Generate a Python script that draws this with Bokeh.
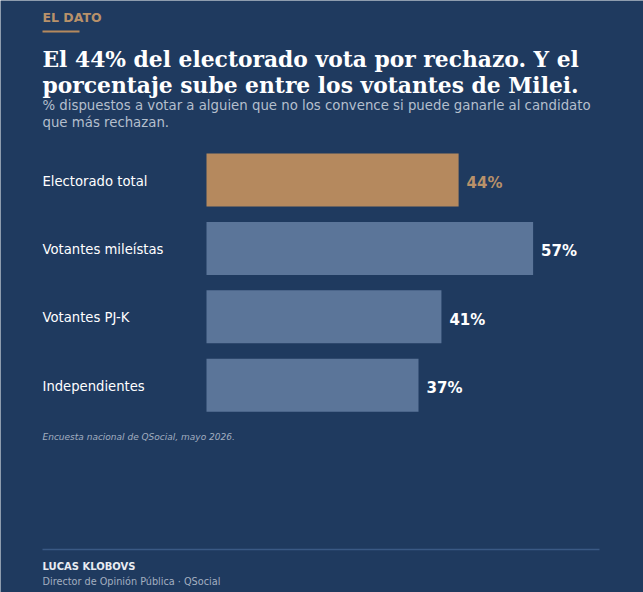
from bokeh.plotting import figure
from bokeh.models import Range1d, ColumnDataSource
from bokeh.core.properties import value
from bokeh.embed import file_html
from bokeh.resources import INLINE

# Survey results (% willing to vote for someone they don't like to beat the most rejected candidate)
categories = ["Electorado total", "Votantes mileístas", "Votantes PJ-K", "Independientes"]
shares = [44, 57, 41, 37]
value_labels = ["44%", "57%", "41%", "37%"]

BG = "#1f3a5f"
TAN = "#b5895e"
TAN_TEXT = "#b8916a"
BLUE = "#5b7599"
WHITE = "#ffffff"
SUB = "#b4bfcd"
MUTED = "#a3afc0"

W, H = 643, 592
X0 = 206          # pixel where 0% sits
PX_PER_PCT = 5.73

p = figure(width=W, height=H, output_backend="svg", toolbar_location=None,
           x_range=Range1d(-X0 / PX_PER_PCT, (W - X0) / PX_PER_PCT),
           y_range=Range1d(H, 0), min_border=0)
p.axis.visible = False
p.grid.visible = False
p.outline_line_color = None
p.background_fill_color = BG
p.border_fill_color = BG

def px(x):
    """convert a pixel column to the percent scale of the x axis"""
    return (x - X0) / PX_PER_PCT

# bars
y0, step, bar_h = 179.5, 68.4, 53
ys = [y0 + i * step for i in range(len(categories))]
colors = [TAN] + [BLUE] * (len(categories) - 1)
src = ColumnDataSource(dict(cat=categories, v=shares, y=ys, c=colors,
                            lab=value_labels,
                            lx=[s + 8 / PX_PER_PCT for s in shares],
                            tc=[TAN_TEXT] + [WHITE] * (len(categories) - 1)))
p.hbar(y="y", left=0, right="v", height=bar_h, fill_color="c", line_color=None, source=src)

# category labels
p.text(x=px(42), y="y", text="cat", source=src, text_font=value("DejaVu Sans"),
       text_font_size="13.2px", text_color=WHITE, text_baseline="middle", y_offset=1)
# value labels
p.text(x="lx", y="y", text="lab", source=src, text_font=value("DejaVu Sans"),
       text_font_size="15px", text_font_style="bold", text_color="tc",
       text_baseline="middle", y_offset=3)

# header
p.text(x=[px(42)], y=[17], text=["EL DATO"], text_font=value("DejaVu Sans"),
       text_font_size="12.5px", text_font_style="bold", text_color=TAN_TEXT,
       text_baseline="middle")
p.segment(x0=[px(42)], x1=[px(79)], y0=[31], y1=[31], line_color=TAN, line_width=2)

p.text(x=[px(42)] * 2, y=[59, 85],
       text=["El 44% del electorado vota por rechazo. Y el",
             "porcentaje sube entre los votantes de Milei."],
       text_font=value("DejaVu Serif"), text_font_size="21.8px", text_font_style="bold",
       text_color=WHITE, text_baseline="middle")

p.text(x=[px(42)] * 2, y=[105, 122],
       text=["% dispuestos a votar a alguien que no los convence si puede ganarle al candidato",
             "que más rechazan."],
       text_font=value("DejaVu Sans"), text_font_size="13.3px",
       text_color=SUB, text_baseline="middle")

# source note
p.text(x=[px(42)], y=[436], text=["Encuesta nacional de QSocial, mayo 2026."],
       text_font=value("DejaVu Sans"), text_font_size="9px", text_font_style="italic",
       text_color=MUTED, text_baseline="middle")

# footer
p.segment(x0=[px(42)], x1=[px(599)], y0=[549], y1=[549], line_color="#3a5984", line_width=1.5)
p.text(x=[px(42)], y=[566], text=["LUCAS KLOBOVS"], text_font=value("DejaVu Sans"),
       text_font_size="10px", text_font_style="bold", text_color="#e8ecf2",
       text_baseline="middle")
p.text(x=[px(42)], y=[581], text=["Director de Opinión Pública · QSocial"],
       text_font=value("DejaVu Sans"), text_font_size="9.7px",
       text_color=MUTED, text_baseline="middle")

open("out.html", "w").write(file_html(p, INLINE))
